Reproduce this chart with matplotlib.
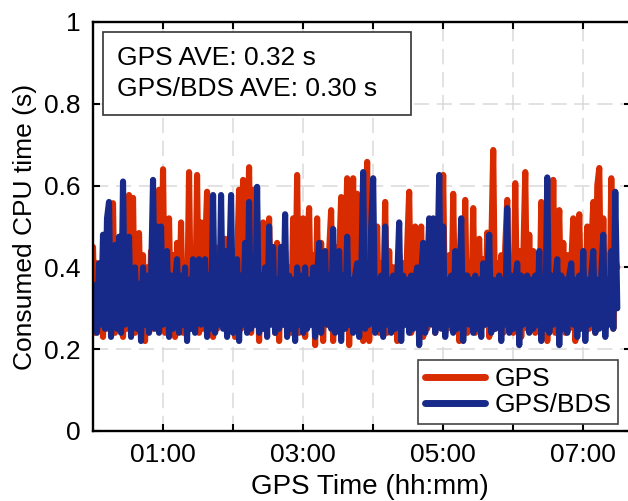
import numpy as np
import matplotlib.pyplot as plt
from matplotlib.patches import Rectangle

plt.rcParams['font.family'] = ['Liberation Sans', 'DejaVu Sans']

# consumed CPU time per epoch (s), single GPS solution
gps_cpu = [
    0.45, 0.24, 0.41, 0.26, 0.38, 0.23, 0.43, 0.25, 0.40, 0.27,
    0.557, 0.24, 0.42, 0.26, 0.45, 0.23, 0.39, 0.25, 0.577, 0.26,
    0.57, 0.24, 0.41, 0.484, 0.25, 0.43, 0.22, 0.40, 0.26, 0.44,
    0.25, 0.52, 0.27, 0.59, 0.26, 0.64, 0.24, 0.41, 0.52, 0.25,
    0.43, 0.23, 0.46, 0.26, 0.51, 0.24, 0.40, 0.27, 0.633, 0.25,
    0.42, 0.26, 0.626, 0.24, 0.51, 0.25, 0.44, 0.585, 0.26, 0.41,
    0.23, 0.45, 0.25, 0.40, 0.27, 0.43, 0.47, 0.24, 0.42, 0.26,
    0.44, 0.23, 0.41, 0.59, 0.25, 0.614, 0.26, 0.43, 0.645, 0.24,
    0.59, 0.26, 0.44, 0.22, 0.42, 0.51, 0.25, 0.40, 0.52, 0.27,
    0.43, 0.24, 0.46, 0.22, 0.41, 0.26, 0.44, 0.25, 0.40, 0.24,
    0.52, 0.26, 0.626, 0.24, 0.42, 0.52, 0.23, 0.45, 0.545, 0.26,
    0.43, 0.21, 0.52, 0.25, 0.46, 0.22, 0.41, 0.26, 0.44, 0.54,
    0.22, 0.45, 0.25, 0.42, 0.572, 0.26, 0.41, 0.618, 0.21, 0.44,
    0.618, 0.25, 0.58, 0.24, 0.43, 0.22, 0.46, 0.658, 0.22, 0.42,
    0.25, 0.45, 0.50, 0.24, 0.41, 0.26, 0.56, 0.24, 0.44, 0.26,
    0.40, 0.40, 0.22, 0.43, 0.25, 0.41, 0.26, 0.45, 0.585, 0.24,
    0.42, 0.50, 0.26, 0.44, 0.50, 0.23, 0.41, 0.25, 0.43, 0.27,
    0.48, 0.24, 0.42, 0.26, 0.44, 0.626, 0.24, 0.41, 0.43, 0.25,
    0.58, 0.26, 0.42, 0.22, 0.44, 0.25, 0.565, 0.24, 0.41, 0.27,
    0.545, 0.24, 0.43, 0.47, 0.25, 0.42, 0.26, 0.485, 0.23, 0.44,
    0.687, 0.25, 0.41, 0.26, 0.43, 0.24, 0.45, 0.565, 0.27, 0.42,
    0.24, 0.606, 0.26, 0.44, 0.23, 0.42, 0.633, 0.25, 0.48, 0.26,
    0.44, 0.24, 0.41, 0.26, 0.56, 0.25, 0.45, 0.22, 0.43, 0.26,
    0.614, 0.24, 0.42, 0.54, 0.26, 0.46, 0.24, 0.43, 0.25, 0.41,
    0.52, 0.22, 0.44, 0.53, 0.26, 0.42, 0.24, 0.50, 0.25, 0.44,
    0.56, 0.24, 0.60, 0.643, 0.26, 0.52, 0.25, 0.43, 0.27, 0.618,
    0.25, 0.42, 0.40,
]

# consumed CPU time per epoch (s), combined GPS/BDS solution
gps_bds_cpu = [
    0.30, 0.357, 0.24, 0.41, 0.26, 0.48, 0.25, 0.52, 0.56, 0.23,
    0.38, 0.455, 0.25, 0.475, 0.24, 0.61, 0.26, 0.37, 0.475, 0.23,
    0.38, 0.40, 0.25, 0.36, 0.22, 0.40, 0.26, 0.38, 0.24, 0.37,
    0.614, 0.25, 0.50, 0.24, 0.50, 0.26, 0.37, 0.44, 0.23, 0.38,
    0.25, 0.37, 0.42, 0.24, 0.38, 0.26, 0.40, 0.22, 0.37, 0.25,
    0.42, 0.24, 0.38, 0.42, 0.26, 0.37, 0.42, 0.23, 0.38, 0.25,
    0.577, 0.24, 0.37, 0.26, 0.577, 0.25, 0.44, 0.23, 0.38, 0.577,
    0.24, 0.37, 0.42, 0.22, 0.38, 0.26, 0.46, 0.24, 0.56, 0.25,
    0.37, 0.26, 0.597, 0.24, 0.38, 0.25, 0.40, 0.23, 0.50, 0.26,
    0.45, 0.24, 0.37, 0.25, 0.45, 0.26, 0.53, 0.23, 0.38, 0.25,
    0.37, 0.22, 0.40, 0.26, 0.38, 0.24, 0.40, 0.25, 0.37, 0.26,
    0.40, 0.23, 0.38, 0.46, 0.24, 0.37, 0.44, 0.26, 0.38, 0.25,
    0.494, 0.24, 0.37, 0.44, 0.22, 0.38, 0.25, 0.475, 0.26, 0.37,
    0.24, 0.38, 0.41, 0.23, 0.37, 0.633, 0.25, 0.38, 0.26, 0.50,
    0.618, 0.24, 0.37, 0.25, 0.38, 0.23, 0.50, 0.26, 0.37, 0.24,
    0.38, 0.25, 0.37, 0.51, 0.22, 0.38, 0.26, 0.37, 0.24, 0.38,
    0.25, 0.37, 0.40, 0.21, 0.38, 0.46, 0.24, 0.37, 0.52, 0.26,
    0.52, 0.24, 0.38, 0.626, 0.25, 0.50, 0.23, 0.37, 0.26, 0.38,
    0.24, 0.44, 0.25, 0.37, 0.52, 0.22, 0.38, 0.38, 0.26, 0.37,
    0.24, 0.38, 0.25, 0.37, 0.23, 0.41, 0.26, 0.37, 0.48, 0.24,
    0.37, 0.25, 0.36, 0.38, 0.22, 0.37, 0.26, 0.545, 0.24, 0.38,
    0.25, 0.37, 0.41, 0.21, 0.38, 0.26, 0.37, 0.38, 0.24, 0.37,
    0.25, 0.38, 0.26, 0.44, 0.22, 0.37, 0.25, 0.62, 0.24, 0.38,
    0.26, 0.37, 0.42, 0.21, 0.38, 0.25, 0.37, 0.24, 0.38, 0.41,
    0.26, 0.37, 0.23, 0.38, 0.25, 0.44, 0.22, 0.37, 0.26, 0.38,
    0.44, 0.24, 0.37, 0.25, 0.38, 0.48, 0.23, 0.37, 0.26, 0.44,
    0.25, 0.585, 0.30,
]

session_end_h = 7.49          # last epoch, hours since start
hour_ticks = [1, 2, 3, 4, 5, 6, 7]
hour_labels = ['01:00', '', '03:00', '', '05:00', '', '07:00']
cpu_ticks = [0, 0.2, 0.4, 0.6, 0.8, 1]
cpu_labels = ['0', '0.2', '0.4', '0.6', '0.8', '1']
ave_lines = ['GPS AVE: 0.32 s', 'GPS/BDS AVE: 0.30 s']

red = '#d92b00'
blue = '#172a8a'
fs = 19

t_gps = np.linspace(0, session_end_h, len(gps_cpu))
t_bds = np.linspace(0, session_end_h, len(gps_bds_cpu))

fig = plt.figure(figsize=(6.28, 5.01), dpi=100)
ax = fig.add_axes([93 / 628, 70 / 501, 538 / 628, 409 / 501])

line_kw = dict(lw=4.4, solid_joinstyle='round', solid_capstyle='round')
ax.plot(t_gps, gps_cpu, color=red, label='GPS', **line_kw)
ax.plot(t_bds, gps_bds_cpu, color=blue, label='GPS/BDS', **line_kw)

ax.set_xlim(0, 538 / 70)
ax.set_ylim(0, 1)
ax.set_xticks(hour_ticks)
ax.set_xticklabels(hour_labels)
ax.set_yticks(cpu_ticks)
ax.set_yticklabels(cpu_labels)

ax.grid(True, color='#dadada', lw=1.1, dashes=(10, 5))
ax.set_axisbelow(True)
for s in ax.spines.values():
    s.set_linewidth(1.7)
ax.tick_params(direction='in', top=True, right=True, length=5, width=1.5,
               labelsize=fs)
ax.tick_params(axis='x', pad=9)
ax.tick_params(axis='y', pad=9)

ax.set_xlabel('GPS Time (hh:mm)', fontsize=20)
ax.xaxis.set_label_coords(0.515, -0.105)
ax.set_ylabel('Consumed CPU time (s)', fontsize=fs, labelpad=5)

# averages box in the upper left corner
ax.add_patch(Rectangle((0.0186, 0.7726), 0.572, 0.203, transform=ax.transAxes,
                       fc='white', ec='#333333', lw=1.2, zorder=5))
ax.text(0.0446, 0.8956, ave_lines[0], transform=ax.transAxes, fontsize=fs,
        va='baseline', ha='left', zorder=6)
ax.text(0.0446, 0.8183, ave_lines[1], transform=ax.transAxes, fontsize=fs,
        va='baseline', ha='left', zorder=6)

leg = ax.legend(loc='lower right', fontsize=fs, frameon=True, fancybox=False,
                edgecolor='#444444', framealpha=1, handlelength=2.3,
                borderaxespad=0, borderpad=0.25, labelspacing=0.1,
                handletextpad=0.35, bbox_to_anchor=(0.976, 0.017))
leg.get_frame().set_linewidth(1.2)
for h in leg.get_lines():
    h.set_linewidth(5)

fig.savefig('out.png', dpi=100)
